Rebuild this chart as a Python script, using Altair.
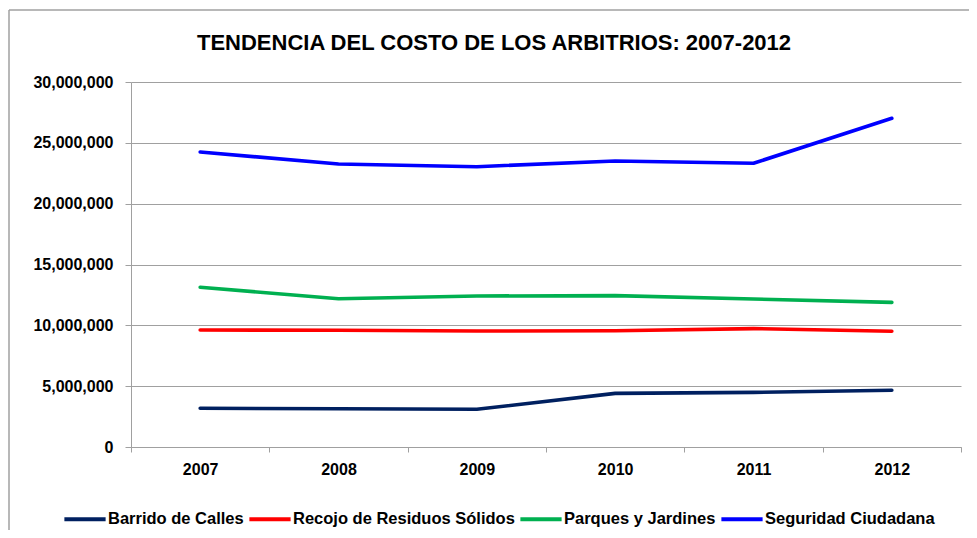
import altair as alt
import pandas as pd

years = ["2007", "2008", "2009", "2010", "2011", "2012"]
series = ["Barrido de Calles", "Recojo de Residuos Sólidos", "Parques y Jardines", "Seguridad Ciudadana"]
barrido = [3180000, 3150000, 3100000, 4410000, 4490000, 4660000]
recojo = [9620000, 9590000, 9530000, 9560000, 9730000, 9510000]
parques = [13130000, 12190000, 12410000, 12440000, 12160000, 11890000]
seguridad = [24250000, 23260000, 23040000, 23510000, 23320000, 27020000]
colors = ["#002060", "#FF0000", "#00B050", "#0000FF"]
y_ticks = [0, 5000000, 10000000, 15000000, 20000000, 25000000, 30000000]

rows = []
for name, vals in zip(series, [barrido, recojo, parques, seguridad]):
    for yr, v in zip(years, vals):
        rows.append({"Año": yr, "Serie": name, "Costo": v})
df = pd.DataFrame(rows)

FONT = "Liberation Sans"

lines = alt.Chart(df).mark_line(strokeWidth=3.6, strokeCap="round", strokeJoin="round").encode(
    x=alt.X("Año:N", sort=years,
            scale=alt.Scale(paddingInner=0, paddingOuter=0),
            axis=alt.Axis(title=None, labelAngle=0, tickBand="extent", tickSize=5,
                          labelPadding=9, grid=False,
                          labelFont=FONT, labelFontSize=16, labelFontWeight="bold",
                          labelColor="#000000")),
    y=alt.Y("Costo:Q",
            scale=alt.Scale(domain=[0, 30000000], nice=False, zero=True),
            axis=alt.Axis(title=None, values=y_ticks, format=",d", tickSize=6,
                          labelPadding=12, grid=True,
                          labelFont=FONT, labelFontSize=16, labelFontWeight="bold",
                          labelColor="#000000")),
    color=alt.Color("Serie:N", sort=series,
                    scale=alt.Scale(domain=series, range=colors),
                    legend=alt.Legend(title=None, orient="none", legendX=-69, legendY=414,
                                      direction="horizontal", columns=4,
                                      symbolType="stroke", symbolSize=1700,
                                      symbolStrokeWidth=4, labelOffset=0,
                                      columnPadding=-3, padding=0, labelLimit=0,
                                      labelFont=FONT, labelFontSize=16.5,
                                      labelFontWeight="bold", labelColor="#000000")),
)

frame_top = alt.Chart(alt.Data(values=[{}])).mark_rule(color="#A0A0A0", strokeWidth=1.5).encode(
    x=alt.value(-122), x2=alt.value(900), y=alt.value(-72)
)
frame_left = alt.Chart(alt.Data(values=[{}])).mark_rule(color="#A0A0A0", strokeWidth=1.5).encode(
    x=alt.value(-122), y=alt.value(-72), y2=alt.value(500)
)

chart = alt.layer(frame_top, frame_left, lines).properties(
    width=830,
    height=365,
    background="white",
    autosize=alt.AutoSizeParams(type="none"),
    padding={"left": 123, "top": 74, "right": 8, "bottom": 83},
    title=alt.Title("TENDENCIA DEL COSTO DE LOS ARBITRIOS: 2007-2012",
                    font=FONT, fontSize=22, fontWeight="bold", color="#000000",
                    anchor="middle", frame="group", dx=-52, offset=-46),
).configure_view(stroke=None).configure_axis(
    domainColor="#A0A0A0", tickColor="#A0A0A0", gridColor="#A0A0A0",
    domainWidth=1, tickWidth=1, gridWidth=1,
)

chart.save("out.html", embed_options={"renderer": "svg", "actions": False})
